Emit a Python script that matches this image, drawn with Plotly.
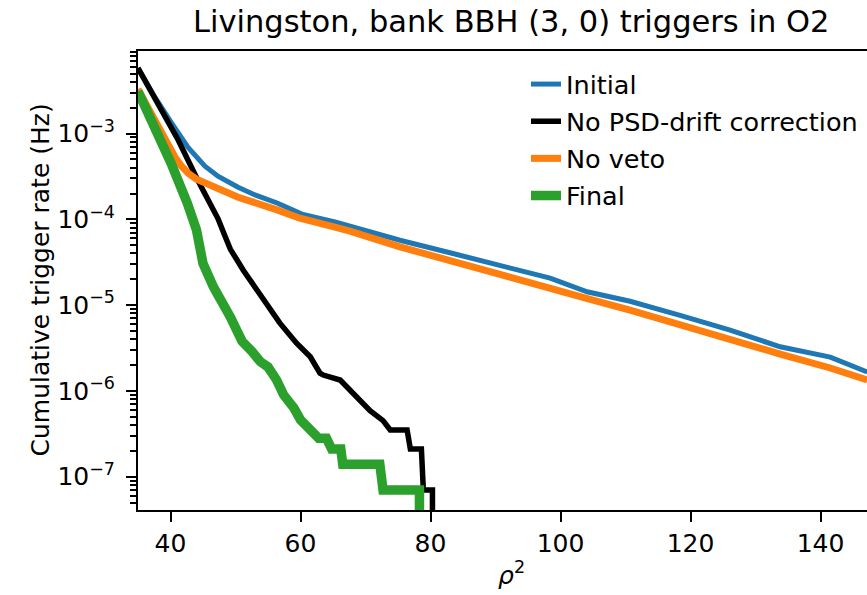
import plotly.graph_objects as go

# ---- data ----
initial_x = [35.0, 37.6, 40.1, 42.7, 45.3, 47.3, 50.4, 53.1, 56.5, 60.2, 65.3, 67.6, 75.3, 83.0, 90.7, 98.4, 104.1, 110.7, 118.4, 126.1, 133.8, 141.5, 147.2]
initial_y = [5.8e-3, 2.65e-3, 1.35e-3, 6.9e-4, 4.16e-4, 3.18e-4, 2.37e-4, 1.91e-4, 1.54e-4, 1.15e-4, 9.3e-5, 8.3e-5, 5.7e-5, 4.08e-5, 2.92e-5, 2.06e-5, 1.43e-5, 1.11e-5, 7.6e-6, 5.1e-6, 3.27e-6, 2.48e-6, 1.66e-6]

nopsd_x = [35.0, 36.5, 38.1, 41.2, 44.2, 47.3, 48.3, 49.2, 51.2, 53.3, 55.3, 56.8, 59.4, 61.5, 63.0, 63.5, 66.1, 68.6, 70.7, 72.7, 73.8, 76.4, 76.9, 78.6, 78.9, 80.3, 80.3]
nopsd_y = [5.8e-3, 3.6e-3, 2.24e-3, 8.35e-4, 2.86e-4, 1.02e-4, 6.6e-5, 4.5e-5, 2.55e-5, 1.5e-5, 8.7e-6, 6.2e-6, 3.6e-6, 2.5e-6, 1.61e-6, 1.53e-6, 1.34e-6, 8.5e-7, 5.9e-7, 4.5e-7, 3.5e-7, 3.5e-7, 2.1e-7, 2.1e-7, 7e-8, 7e-8, 1e-9]

noveto_x = [35.0, 38.1, 39.4, 40.7, 41.7, 42.7, 44.0, 45.3, 47.5, 50.4, 56.5, 59.9, 65.3, 67.6, 75.3, 83.0, 90.7, 98.4, 104.0, 110.7, 118.4, 126.1, 133.8, 141.5, 147.2]
noveto_y = [3.3e-3, 1.19e-3, 7.8e-4, 5.3e-4, 4.16e-4, 3.45e-4, 2.94e-4, 2.64e-4, 2.19e-4, 1.81e-4, 1.28e-4, 1.03e-4, 8.1e-5, 7.3e-5, 4.78e-5, 3.34e-5, 2.34e-5, 1.63e-5, 1.2e-5, 8.75e-6, 5.85e-6, 3.9e-6, 2.69e-6, 1.85e-6, 1.34e-6]

final_x = [35.0, 37.6, 40.1, 42.6, 43.6, 44.0, 45.0, 46.6, 49.2, 51.0, 52.5, 53.8, 55.0, 56.3, 57.4, 58.4, 59.0, 60.0, 61.5, 62.8, 64.0, 64.8, 66.2, 66.5, 72.2, 72.7, 78.3, 78.3]
final_y = [3.1e-3, 1.19e-3, 4.48e-4, 1.53e-4, 9.8e-5, 7.5e-5, 3.06e-5, 1.63e-5, 7.3e-6, 3.8e-6, 2.9e-6, 2.2e-6, 1.9e-6, 1.35e-6, 9e-7, 7.5e-7, 6.3e-7, 4.6e-7, 3.5e-7, 2.8e-7, 2.8e-7, 2.1e-7, 2.1e-7, 1.4e-7, 1.4e-7, 7e-8, 7e-8, 1e-9]

series_names = ["Initial", "No PSD-drift correction", "No veto", "Final"]
series_colors = ["#1f77b4", "#000000", "#ff7f0e", "#2ca02c"]
series_widths = [5, 5.5, 7, 9.5]

x_ticks = [40, 60, 80, 100, 120, 140]
y_exponents = [-7, -6, -5, -4, -3]

title_text = "Livingston, bank BBH (3, 0) triggers in O2"
xlabel_text = "<i>ρ</i><sup>2</sup>"
ylabel_text = "Cumulative trigger rate (Hz)"

# ---- figure ----
FONT = "DejaVu Sans"
W, H = 867, 595
L, R, T, B = 138, 0, 51, 85
pw, ph = W - L - R, H - T - B

fig = go.Figure()
for xs, ys, name, col, lw in zip([initial_x, nopsd_x, noveto_x, final_x],
                                 [initial_y, nopsd_y, noveto_y, final_y],
                                 series_names, series_colors, series_widths):
    fig.add_trace(go.Scatter(x=xs, y=ys, mode="lines", name=name,
                             line=dict(color=col, width=lw), legendgroup=name))

y_major = [10.0 ** e for e in y_exponents]
y_major_text = ["10<sup>−%d</sup>" % (-e) for e in y_exponents]
y_minor = [m * 10.0 ** e for e in range(-8, -1) for m in range(2, 10)]

fig.update_layout(
    width=W, height=H,
    margin=dict(l=L, r=R, t=T, b=B),
    paper_bgcolor="white", plot_bgcolor="white",
    font=dict(family=FONT, size=25, color="black"),
    showlegend=True,
    legend=dict(x=(526 - L) / pw, xanchor="left", y=1 - (61 - T) / ph, yanchor="top",
                bgcolor="rgba(0,0,0,0)", font=dict(size=25.5), tracegroupgap=1,
                traceorder="grouped"),
    xaxis=dict(range=[35, 35 + pw / 6.5], showgrid=False, zeroline=False,
               showline=True, linecolor="black", linewidth=2, mirror=True,
               ticks="outside", ticklen=10, tickwidth=2, tickcolor="black",
               tickvals=x_ticks, ticktext=[str(v) for v in x_ticks]),
    yaxis=dict(type="log", range=[-7.388, -2.038], showgrid=False, zeroline=False,
               showline=True, linecolor="black", linewidth=2,
               ticks="outside", ticklen=10, tickwidth=2, tickcolor="black",
               tickvals=y_major, ticktext=y_major_text, ticklabelstandoff=6,
               minor=dict(tickvals=y_minor, ticks="outside", ticklen=6,
                          tickwidth=1.5, tickcolor="black", showgrid=False)),
)

fig.add_annotation(text=title_text, xref="paper", yref="paper",
                   x=(511 - L) / pw, y=1 + (T - 22) / ph, xanchor="center", yanchor="middle",
                   showarrow=False, font=dict(size=30.5))
fig.add_annotation(text=xlabel_text, xref="paper", yref="paper",
                   x=(511 - L) / pw, y=-(555 - (H - B)) / ph, xanchor="center", yanchor="top",
                   showarrow=False, font=dict(size=25))
fig.add_annotation(text=ylabel_text, xref="paper", yref="paper",
                   x=(40 - L) / pw, y=0.5, xanchor="center", yanchor="middle",
                   textangle=-90, showarrow=False, font=dict(size=25))

fig.write_html("out.html")
